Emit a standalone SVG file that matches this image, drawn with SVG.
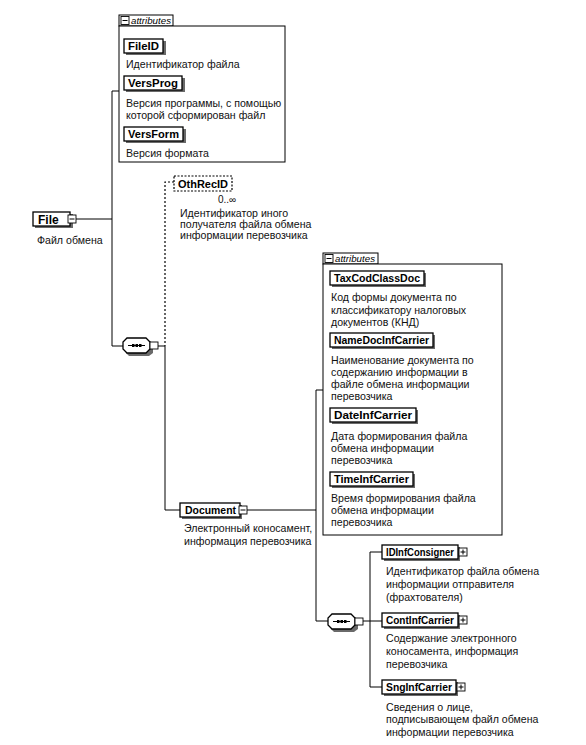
<svg xmlns="http://www.w3.org/2000/svg" width="586" height="745" viewBox="0 0 586 745">
<style>
.bg{fill:#fff}
.el{fill:#fff;stroke:#000;stroke-width:1.3}
.sh{fill:#6a6a6a}
.nm{font-family:"Liberation Sans",Arial,sans-serif;font-size:11px;font-weight:bold;fill:#000}
.ds{font-family:"Liberation Sans",Arial,sans-serif;font-size:10.6px;fill:#111}
.tab{font-family:"Liberation Sans",Arial,sans-serif;font-size:8.5px;font-style:italic;fill:#000}
.ln{fill:none;stroke:#000;stroke-width:1}
.dl{fill:none;stroke:#000;stroke-width:1.2;stroke-dasharray:2,2}
.box{fill:#fff;stroke:#000;stroke-width:1}
.ic{fill:#fff;stroke:#000;stroke-width:0.9}
</style>
<defs>
<g id="minus"><rect class="ic" x="0" y="0" width="8" height="8"/><line x1="1.5" y1="4" x2="6.5" y2="4" stroke="#000" stroke-width="1"/></g>
<g id="plus"><rect class="ic" x="0" y="0" width="8" height="8"/><line x1="1.5" y1="4" x2="6.5" y2="4" stroke="#000" stroke-width="1"/><line x1="4" y1="1.5" x2="4" y2="6.5" stroke="#000" stroke-width="1"/></g>
<g id="seq"><path class="sh" d="M6,3 H27 L30,7 V15 L26,18 H6 L3,15 V7 Z"/><path class="el" d="M4,0 H23 L27,4 V11 L23,15 H4 L0,11 V4 Z"/><line x1="5" y1="7.5" x2="22" y2="7.5" stroke="#000" stroke-width="1"/><rect x="9" y="6" width="2.5" height="3" fill="#000"/><rect x="12.5" y="6" width="2.5" height="3" fill="#000"/><rect x="16" y="6" width="2.5" height="3" fill="#000"/><rect class="ic" x="27" y="4" width="8" height="7"/></g>
</defs>
<rect class="bg" x="0" y="0" width="586" height="745"/>

<g id="connectors">
<path class="ln" d="M112,91 H119 M112,91 V346 H123 M76,219 H112"/>
<path class="dl" d="M174,182 H165 V346"/>
<path class="ln" d="M158,346 H165 V510 H180"/>
<path class="ln" d="M247,510 H316 M316,390 H323 M316,390 V621 H328"/>
<path class="ln" d="M363,621 H382 M370,552 H382 M370,552 V687 H382"/>
</g>

<g id="attributes-file">
<rect class="box" x="119" y="15" width="54" height="11"/>
<use href="#minus" x="121" y="16.5"/>
<text class="tab" x="131" y="24" textLength="40" lengthAdjust="spacingAndGlyphs">attributes</text>
<rect class="box" x="119" y="26" width="166" height="136"/>
<g id="FileID">
<rect class="sh" x="126" y="41" width="40" height="14"/>
<rect class="el" x="124" y="39" width="39" height="14"/>
<text class="nm" x="128" y="50" textLength="31" lengthAdjust="spacingAndGlyphs">FileID</text>
<text class="ds" x="126" y="68">Идентификатор файла</text>
</g>
<g id="VersProg">
<rect class="sh" x="126" y="78" width="59" height="14"/>
<rect class="el" x="124" y="76" width="58" height="14"/>
<text class="nm" x="128" y="87" textLength="50" lengthAdjust="spacingAndGlyphs">VersProg</text>
<text class="ds" x="126" y="107">Версия программы, с помощью</text>
<text class="ds" x="126" y="119">которой сформирован файл</text>
</g>
<g id="VersForm">
<rect class="sh" x="126" y="129" width="60" height="14"/>
<rect class="el" x="124" y="127" width="59" height="14"/>
<text class="nm" x="128" y="138" textLength="51" lengthAdjust="spacingAndGlyphs">VersForm</text>
<text class="ds" x="126" y="157">Версия формата</text>
</g>
</g>

<g id="File">
<rect class="sh" x="35" y="214" width="38" height="14"/>
<rect class="el" x="33" y="212" width="37" height="14"/>
<text class="nm" x="38" y="223.5" style="font-size:12px">File</text>
<use href="#minus" x="68" y="215"/>
<text class="ds" x="37" y="244">Файл обмена</text>
</g>

<g id="OthRecID">
<rect x="174" y="176" width="58" height="15" fill="#fff" stroke="#000" stroke-width="1.2" stroke-dasharray="2,1.5"/>
<text class="nm" x="178" y="188" textLength="50" lengthAdjust="spacingAndGlyphs">OthRecID</text>
<text class="ds" x="218" y="203" style="font-size:10px">0..∞</text>
<text class="ds" x="180" y="217">Идентификатор иного</text>
<text class="ds" x="180" y="228">получателя файла обмена</text>
<text class="ds" x="180" y="239">информации перевозчика</text>
</g>

<g id="sequence1"><use href="#seq" x="123" y="338"/></g>

<g id="Document">
<rect class="sh" x="182" y="505" width="60" height="14"/>
<rect class="el" x="180" y="503" width="60" height="14"/>
<text class="nm" x="185" y="514" textLength="51" lengthAdjust="spacingAndGlyphs">Document</text>
<use href="#minus" x="239" y="506"/>
<text class="ds" x="184" y="532">Электронный коносамент,</text>
<text class="ds" x="184" y="545">информация перевозчика</text>
</g>

<g id="attributes-document">
<rect class="box" x="323" y="253" width="55" height="11"/>
<use href="#minus" x="325" y="254.5"/>
<text class="tab" x="335" y="262" textLength="40" lengthAdjust="spacingAndGlyphs">attributes</text>
<rect class="box" x="323" y="264" width="179" height="271"/>
<g id="TaxCodClassDoc">
<rect class="sh" x="332" y="273" width="94" height="14"/>
<rect class="el" x="330" y="271" width="94" height="14"/>
<text class="nm" x="334" y="282" textLength="86" lengthAdjust="spacingAndGlyphs">TaxCodClassDoc</text>
<text class="ds" x="331" y="301">Код формы документа по</text>
<text class="ds" x="331" y="314">классификатору налоговых</text>
<text class="ds" x="331" y="326">документов (КНД)</text>
</g>
<g id="NameDocInfCarrier">
<rect class="sh" x="332" y="335" width="103" height="14"/>
<rect class="el" x="330" y="333" width="103" height="14"/>
<text class="nm" x="334" y="344" textLength="95" lengthAdjust="spacingAndGlyphs">NameDocInfCarrier</text>
<text class="ds" x="331" y="364">Наименование документа по</text>
<text class="ds" x="331" y="376">содержанию информации в</text>
<text class="ds" x="331" y="388">файле обмена информации</text>
<text class="ds" x="331" y="400">перевозчика</text>
</g>
<g id="DateInfCarrier">
<rect class="sh" x="332" y="410" width="86" height="14"/>
<rect class="el" x="330" y="408" width="86" height="14"/>
<text class="nm" x="334" y="419" textLength="78" lengthAdjust="spacingAndGlyphs">DateInfCarrier</text>
<text class="ds" x="331" y="440">Дата формирования файла</text>
<text class="ds" x="331" y="452">обмена информации</text>
<text class="ds" x="331" y="464">перевозчика</text>
</g>
<g id="TimeInfCarrier">
<rect class="sh" x="332" y="474" width="83" height="14"/>
<rect class="el" x="330" y="472" width="83" height="14"/>
<text class="nm" x="334" y="483" textLength="75" lengthAdjust="spacingAndGlyphs">TimeInfCarrier</text>
<text class="ds" x="331" y="502">Время формирования файла</text>
<text class="ds" x="331" y="514">обмена информации</text>
<text class="ds" x="331" y="526">перевозчика</text>
</g>
</g>

<g id="sequence2"><use href="#seq" x="328" y="614"/></g>

<g id="IDInfConsigner">
<rect class="sh" x="384" y="547" width="76" height="14"/>
<rect class="el" x="382" y="545" width="76" height="14"/>
<text class="nm" x="386" y="556" textLength="68" lengthAdjust="spacingAndGlyphs">IDInfConsigner</text>
<use href="#plus" x="459" y="548"/>
<text class="ds" x="386" y="575">Идентификатор файла обмена</text>
<text class="ds" x="386" y="588">информации отправителя</text>
<text class="ds" x="386" y="601">(фрахтователя)</text>
</g>

<g id="ContInfCarrier">
<rect class="sh" x="384" y="615" width="76" height="14"/>
<rect class="el" x="382" y="613" width="76" height="14"/>
<text class="nm" x="386" y="624" textLength="68" lengthAdjust="spacingAndGlyphs">ContInfCarrier</text>
<use href="#plus" x="459" y="616"/>
<text class="ds" x="386" y="642">Содержание электронного</text>
<text class="ds" x="386" y="655">коносамента, информация</text>
<text class="ds" x="386" y="668">перевозчика</text>
</g>

<g id="SngInfCarrier">
<rect class="sh" x="384" y="682" width="74" height="14"/>
<rect class="el" x="382" y="680" width="74" height="14"/>
<text class="nm" x="386" y="691" textLength="66" lengthAdjust="spacingAndGlyphs">SngInfCarrier</text>
<use href="#plus" x="457" y="683"/>
<text class="ds" x="386" y="711">Сведения о лице,</text>
<text class="ds" x="386" y="723">подписывающем файл обмена</text>
<text class="ds" x="386" y="736">информации перевозчика</text>
</g>
</svg>
